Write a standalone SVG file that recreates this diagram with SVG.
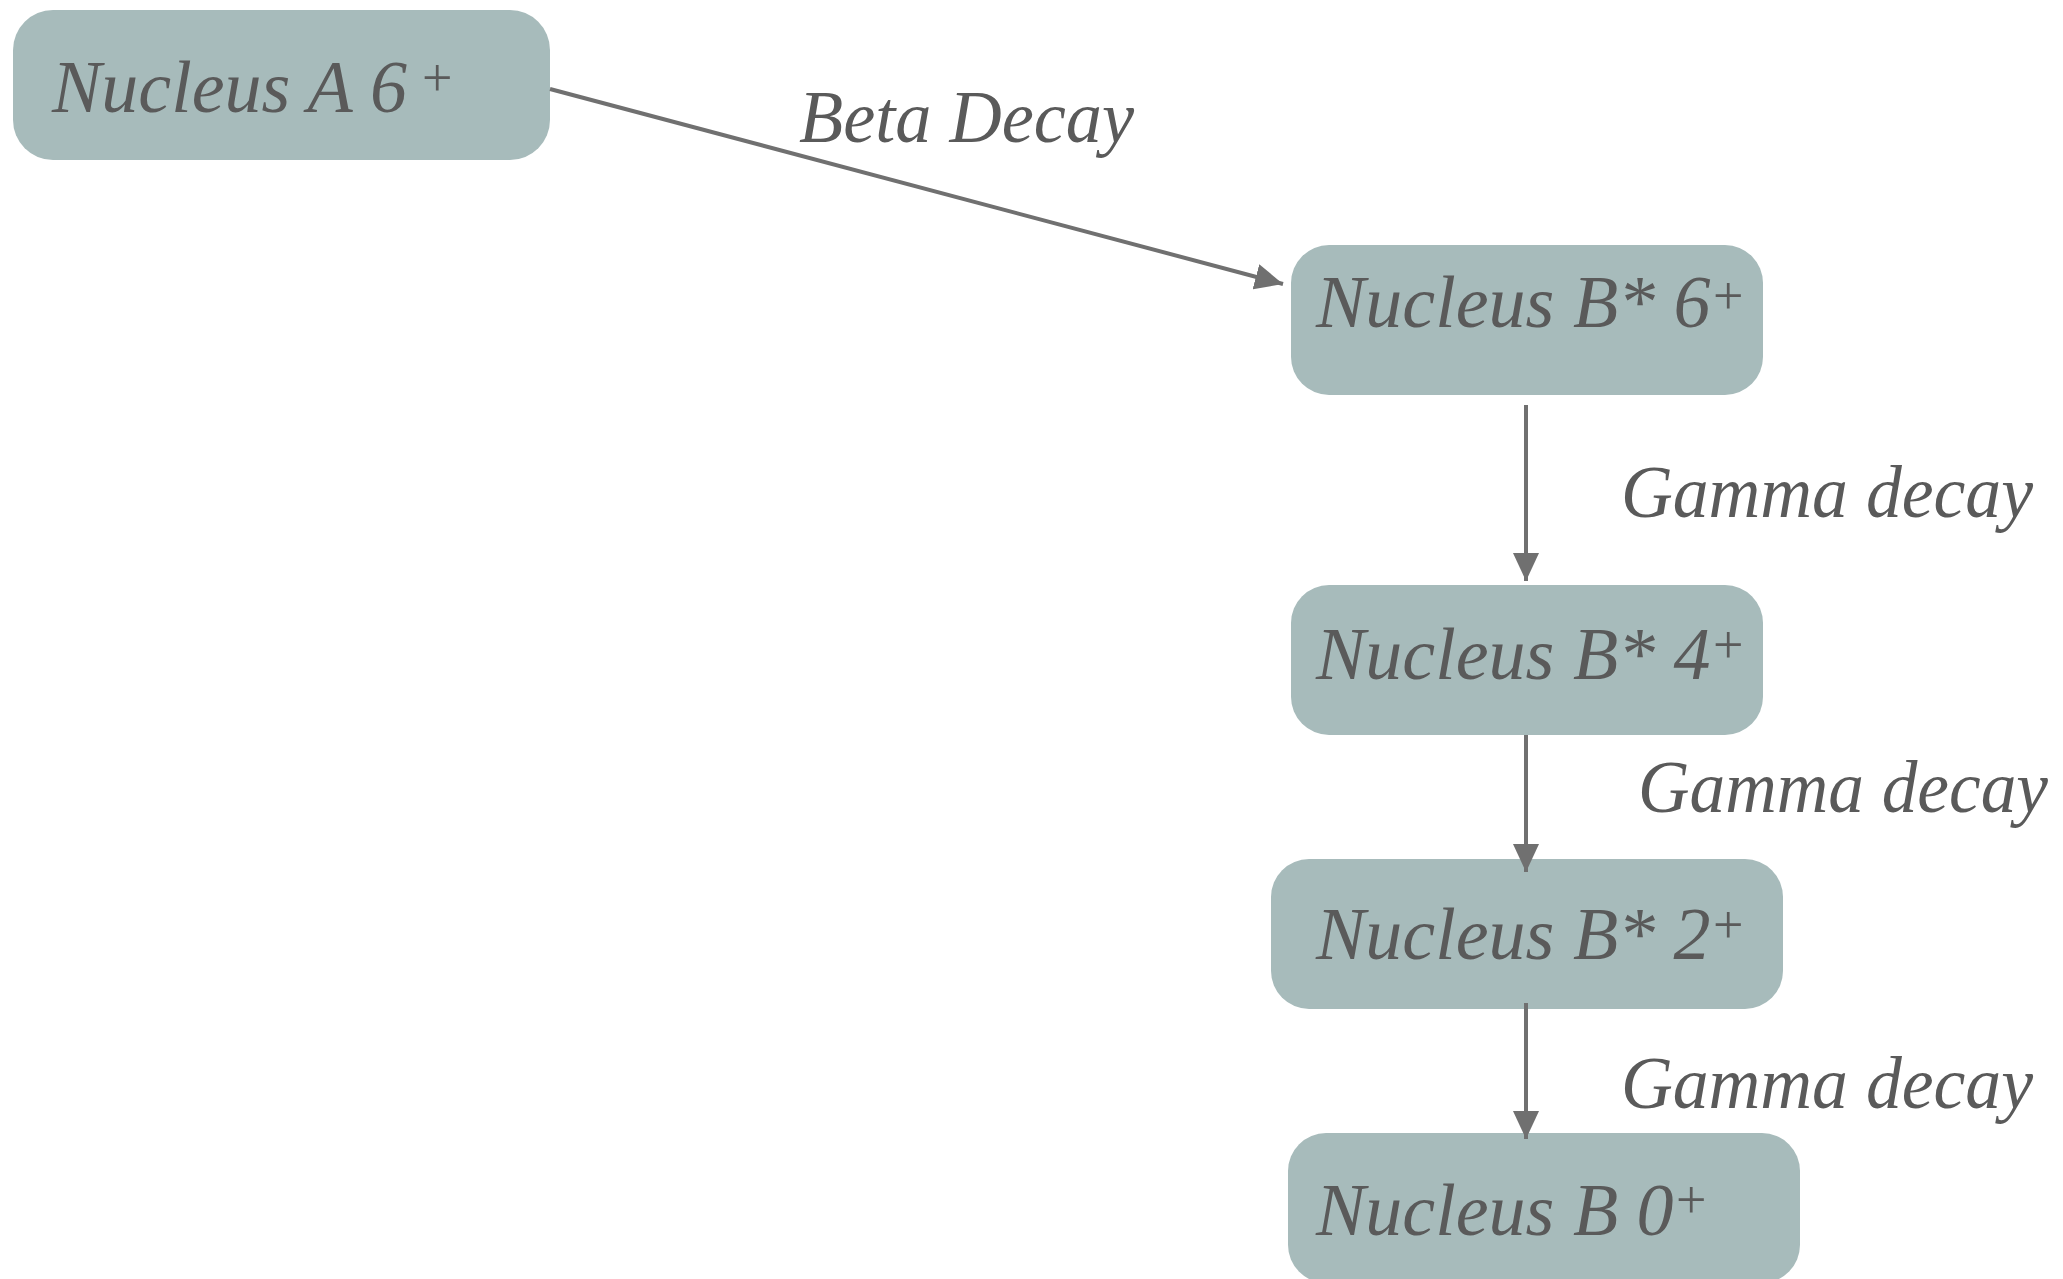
<svg xmlns="http://www.w3.org/2000/svg" width="2063" height="1279" viewBox="0 0 2063 1279">
<style>
.box{fill:#a7bbbb}
.t{font-family:"Liberation Serif","Times New Roman",serif;font-style:italic;font-size:74px;fill:#5a5a5a}
.sup{font-family:"Liberation Serif","Times New Roman",serif;font-size:54px;fill:#5a5a5a}
.edge{stroke:#707070;stroke-width:4;fill:none}
.lbl{font-family:"Liberation Serif","Times New Roman",serif;font-style:italic;font-size:74px;fill:#5a5a5a}
</style>
<defs>
<marker id="arr" markerUnits="userSpaceOnUse" markerWidth="30" markerHeight="26" refX="28" refY="13" orient="auto">
<path d="M0,0 L28,13 L0,26 Z" fill="#707070"/>
</marker>
</defs>
<rect width="2063" height="1279" fill="#ffffff"/>
<g id="nodeA">
<rect class="box" x="13" y="10" width="537" height="150" rx="40"/>
<text class="t" x="52" y="112">Nucleus A 6</text>
<text class="sup" x="422" y="96">+</text>
</g>
<g id="nodeB6">
<rect class="box" x="1291" y="245" width="472" height="150" rx="38"/>
<text class="t" x="1316" y="327">Nucleus B* 6</text>
<text class="sup" x="1713" y="314">+</text>
</g>
<g id="nodeB4">
<rect class="box" x="1291" y="585" width="472" height="150" rx="38"/>
<text class="t" x="1316" y="679">Nucleus B* 4</text>
<text class="sup" x="1713" y="663">+</text>
</g>
<g id="nodeB2">
<rect class="box" x="1271" y="859" width="512" height="150" rx="38"/>
<text class="t" x="1316" y="959">Nucleus B* 2</text>
<text class="sup" x="1713" y="943">+</text>
</g>
<g id="nodeB0">
<rect class="box" x="1288" y="1133" width="512" height="150" rx="38"/>
<text class="t" x="1316" y="1235">Nucleus B 0</text>
<text class="sup" x="1676" y="1218">+</text>
</g>
<g id="connectors">
<line class="edge" x1="550" y1="89" x2="1283" y2="284" marker-end="url(#arr)"/>
<line class="edge" x1="1526" y1="405" x2="1526" y2="581" marker-end="url(#arr)"/>
<line class="edge" x1="1526" y1="735" x2="1526" y2="872" marker-end="url(#arr)"/>
<line class="edge" x1="1526" y1="1003" x2="1526" y2="1139" marker-end="url(#arr)"/>
<text class="lbl" x="799" y="142" textLength="335" lengthAdjust="spacingAndGlyphs">Beta Decay</text>
<text class="lbl" x="1621" y="517" textLength="412" lengthAdjust="spacingAndGlyphs">Gamma decay</text>
<text class="lbl" x="1638" y="812" textLength="410" lengthAdjust="spacingAndGlyphs">Gamma decay</text>
<text class="lbl" x="1621" y="1108" textLength="412" lengthAdjust="spacingAndGlyphs">Gamma decay</text>
</g>
</svg>
